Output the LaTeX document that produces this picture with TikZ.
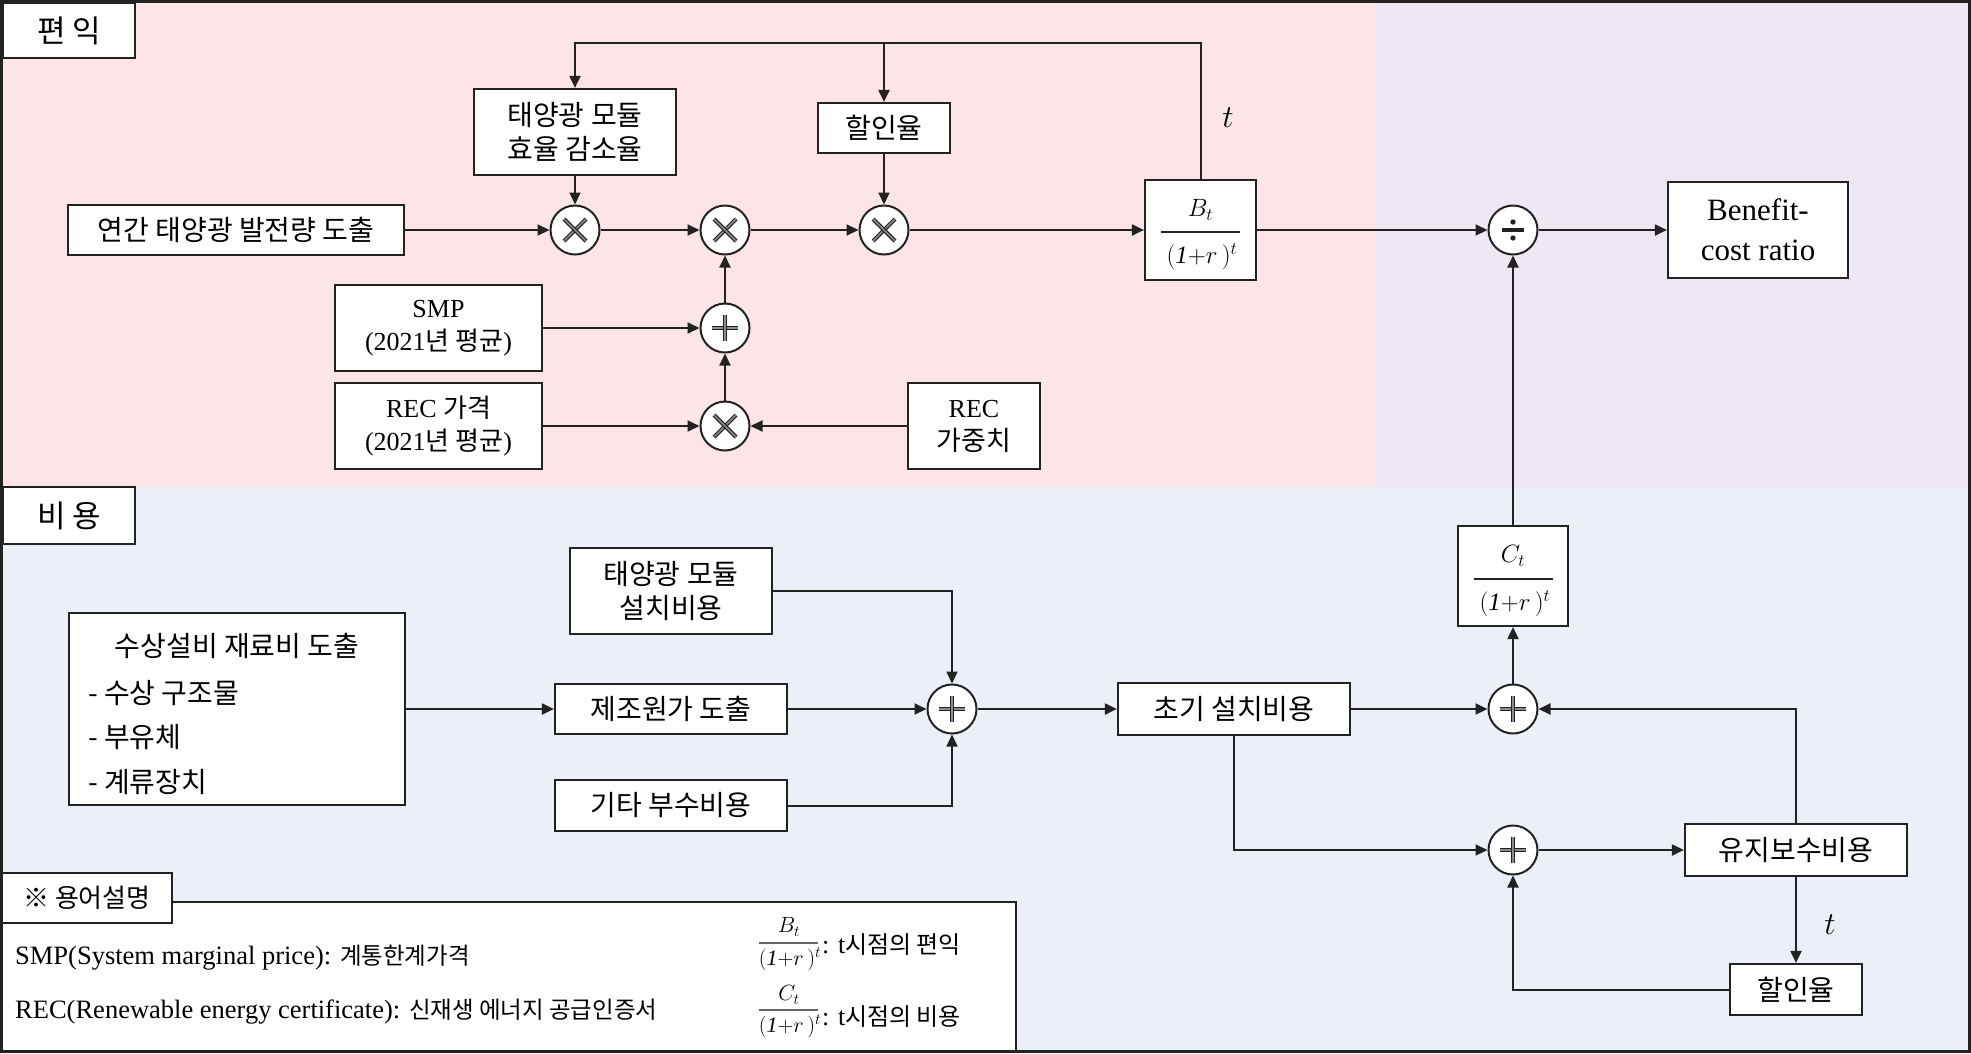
\RequirePackage{fix-cm}
\documentclass[tikz,border=0pt]{standalone}
\usepackage{fontspec}
\setmainfont{Liberation Serif}
\newfontfamily\kr{Noto Sans CJK KR}
\usetikzlibrary{arrows.meta}
\definecolor{pinkbg}{HTML}{FDE4E7}
\definecolor{lavbg}{HTML}{EFE8F4}
\definecolor{bluebg}{HTML}{EAEFF8}
\definecolor{ink}{HTML}{222222}
\newcommand{\hk}[1]{{\kr #1}}
\newcommand{\setfs}[2]{\fontsize{#1}{#2}\selectfont}
\begin{document}
\begin{tikzpicture}[x=1pt,y=-1pt,
  box/.style={draw=ink, line width=2.2pt, fill=white, inner sep=0pt, align=center},
  kbox/.style={box, font=\setfs{28}{34}\kr},
  lbox/.style={box, font=\setfs{26}{33}},
  txt/.style={inner sep=0pt},
  con/.style={draw=ink, line width=2pt, -{Triangle[length=12pt,width=11pt]}},
  op/.style={circle, draw=ink, line width=2pt, fill=white, minimum size=49pt, inner sep=0pt},
  opsym/.style={draw=ink, line width=1.2pt, double=black!45, double distance=1.5pt},
  times/.style={op, path picture={
    \draw[opsym] ([shift={(-11pt,-11pt)}]path picture bounding box.center) -- ([shift={(11pt,11pt)}]path picture bounding box.center);
    \draw[opsym] ([shift={(-11pt,11pt)}]path picture bounding box.center) -- ([shift={(11pt,-11pt)}]path picture bounding box.center);}},
  plus/.style={op, path picture={
    \draw[opsym] ([xshift=-13pt]path picture bounding box.center) -- ([xshift=13pt]path picture bounding box.center);
    \draw[opsym] ([yshift=-13pt]path picture bounding box.center) -- ([yshift=13pt]path picture bounding box.center);}},
  divide/.style={op, path picture={
    \draw[ink, line width=3.4pt] ([xshift=-11pt]path picture bounding box.center) -- ([xshift=11pt]path picture bounding box.center);
    \fill[ink] ([yshift=8pt]path picture bounding box.center) circle (2.7pt);
    \fill[ink] ([yshift=-8pt]path picture bounding box.center) circle (2.7pt);}},
]
\useasboundingbox (0,0) rectangle (1971,1053);
% backgrounds
\fill[pinkbg] (0,0) rectangle (1375,487);
\fill[lavbg] (1375,0) rectangle (1971,487);
\fill[bluebg] (0,487) rectangle (1971,1053);

% ---------- upper part ----------
\node[box, font=\setfs{31}{34}\kr, minimum width=132pt, minimum height=55pt] (lab1) at (69,30.5) {편 익};
\node[kbox, minimum width=202pt, minimum height=86pt] (eff) at (575,132) {태양광 모듈\\효율 감소율};
\node[kbox, minimum width=336pt, minimum height=50pt] (gen) at (236,230) {연간 태양광 발전량 도출};
\node[lbox, minimum width=207pt, minimum height=86pt] (smp) at (438.5,328) {SMP\\(2021\hk{년 평균})};
\node[lbox, minimum width=207pt, minimum height=86pt] (recp) at (438.5,426) {REC \hk{가격}\\(2021\hk{년 평균})};
\node[kbox, minimum width=132pt, minimum height=50pt] (disc1) at (884,128) {할인율};
\node[lbox, minimum width=132pt, minimum height=86pt] (recw) at (974,426) {REC\\\hk{\setfs{27}{33}가중치}};
\node[box, minimum width=111pt, minimum height=100pt] (bt) at (1200.5,230) {};
\node[txt, font=\setfs{25}{30}] (btn) at (1200.5,210) {$B_t$};
\draw[ink, line width=1.5pt] (1161,232) -- (1240,232);
\node[txt, font=\setfs{25}{30}] (btd) at (1202,257) {$(\mathit{1}{+}r\,)^{t}$};
\node[box, font=\setfs{31}{40}, minimum width=180pt, minimum height=96pt] (bcr) at (1758,230) {Benefit-\\cost ratio};
\node[times] (m1) at (575,230) {};
\node[times] (m2) at (725,230) {};
\node[times] (m3) at (884,230) {};
\node[plus] (p1) at (725,328) {};
\node[times] (m4) at (725,426) {};
\node[divide] (dv) at (1513,230) {};
\node[txt, font=\setfs{32}{36}] (t1) at (1228,118) {$t$};
\coordinate (ltop) at (1200.5,43);

\draw[con] (gen) -- (m1);
\draw[con] (eff) -- (m1);
\draw[con] (m1) -- (m2);
\draw[con] (m2) -- (m3);
\draw[con] (m3) -- (bt);
\draw[con] (bt) -- (dv);
\draw[con] (dv) -- (bcr);
\draw[con] (disc1) -- (m3);
\draw[con] (p1) -- (m2);
\draw[con] (m4) -- (p1);
\draw[con] (smp) -- (p1);
\draw[con] (recp) -- (m4);
\draw[con] (recw) -- (m4);
\draw[con] (bt.north) -- (ltop) -| (eff.north);
\draw[con] (disc1.north |- ltop) -- (disc1.north);

% ---------- lower part ----------
\node[box, font=\setfs{31}{34}\kr, minimum width=132pt, minimum height=57pt] (lab2) at (69,515.5) {비 용};
\node[kbox, minimum width=202pt, minimum height=86pt] (inst) at (671,591) {태양광 모듈\\설치비용};
\node[box, minimum width=336pt, minimum height=192pt] (mat) at (237,709) {};
\node[txt, font=\setfs{28}{34}\kr] (mat0) at (237,646) {수상설비 재료비 도출};
\node[txt, font=\setfs{28}{34}\kr, anchor=west] (mat1) at (88,693) {- 수상 구조물};
\node[txt, font=\setfs{28}{34}\kr, anchor=west] (mat2) at (88,737) {- 부유체};
\node[txt, font=\setfs{28}{34}\kr, anchor=west] (mat3) at (88,782) {- 계류장치};
\node[kbox, minimum width=232pt, minimum height=50pt] (mfg) at (671,709) {제조원가 도출};
\node[kbox, minimum width=232pt, minimum height=51pt] (etc) at (671,805.5) {기타 부수비용};
\node[plus] (p2) at (952,709) {};
\node[kbox, minimum width=232pt, minimum height=52pt] (init) at (1234,709) {초기 설치비용};
\node[plus] (p3) at (1513,709) {};
\node[plus] (p4) at (1513,850) {};
\node[box, minimum width=110pt, minimum height=100pt] (ct) at (1513,576) {};
\node[txt, font=\setfs{25}{30}] (ctn) at (1513,556) {$C_t$};
\draw[ink, line width=1.5pt] (1474,579) -- (1553,579);
\node[txt, font=\setfs{25}{30}] (ctd) at (1515,604) {$(\mathit{1}{+}r\,)^{t}$};
\node[kbox, minimum width=222pt, minimum height=52pt] (maint) at (1796,850) {유지보수비용};
\node[kbox, minimum width=132pt, minimum height=51pt] (disc2) at (1796,989.5) {할인율};
\node[txt, font=\setfs{32}{36}] (t2) at (1830,925) {$t$};

\draw[con] (mat) -- (mfg);
\draw[con] (mfg) -- (p2);
\draw[con] (inst.east) -| (p2.north);
\draw[con] (etc.east) -| (p2.south);
\draw[con] (p2) -- (init);
\draw[con] (init) -- (p3);
\draw[con] (p3) -- (ct);
\draw[con] (ct) -- (dv);
\draw[con] (maint.north) |- (p3.east);
\draw[con] (init.south) |- (p4.west);
\draw[con] (p4) -- (maint);
\draw[con] (maint) -- (disc2);
\draw[con] (disc2.west) -| (p4.south);

% ---------- legend ----------
\draw[draw=ink, line width=2.2pt, fill=white] (2,902) rectangle (1016,1051);
\node[box, font=\setfs{26}{30}\kr, minimum width=170pt, minimum height=50pt] (leg) at (87,898) {※ 용어설명};
\node[txt, anchor=west, font=\setfs{26.5}{30}] (l1) at (15,958) {SMP(System marginal price): \hk{\setfs{23.5}{26}계통한계가격}};
\node[txt, anchor=west, font=\setfs{26.5}{30}] (l2) at (15,1012) {REC(Renewable energy certificate): \hk{\setfs{23.5}{26}신재생 에너지 공급인증서}};
\node[txt, font=\setfs{22}{26}] (lbn) at (789,927) {$B_t$};
\draw[ink!70, line width=1.2pt] (759,943) -- (818,943);
\node[txt, font=\setfs{22}{26}] (lbd) at (790,959) {$(\mathit{1}{+}r\,)^{t}$};
\node[txt, anchor=west, font=\setfs{26}{30}] (lbx) at (822,945) {: t\hk{\setfs{24}{26}시점의 편익}};
\node[txt, font=\setfs{22}{26}] (lcn) at (789,995) {$C_t$};
\draw[ink!70, line width=1.2pt] (759,1010) -- (818,1010);
\node[txt, font=\setfs{22}{26}] (lcd) at (790,1026) {$(\mathit{1}{+}r\,)^{t}$};
\node[txt, anchor=west, font=\setfs{26}{30}] (lcx) at (822,1017) {: t\hk{\setfs{24}{26}시점의 비용}};

% outer border
\draw[ink, line width=3pt] (1.5,1.5) rectangle (1969.5,1051.5);
\end{tikzpicture}
\end{document}
